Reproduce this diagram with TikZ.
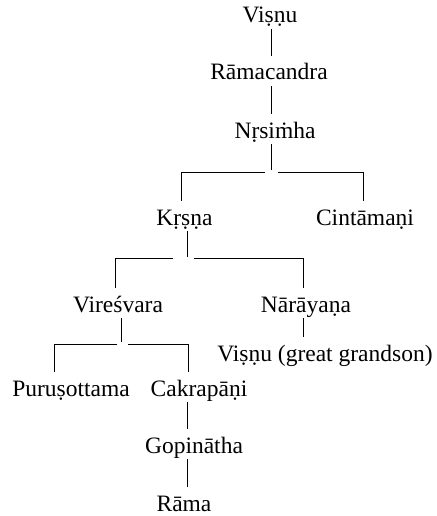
\documentclass[tikz,border=0pt]{standalone}
\usepackage{fontspec}
\setmainfont{Liberation Serif}
\begin{document}
\begin{tikzpicture}
  [x=1pt,y=-1pt,line width=.8pt,
   every node/.style={font=\fontsize{23.5}{26}\selectfont,text height=20pt,text depth=2pt,inner xsep=2pt,inner ysep=4pt}]
  \useasboundingbox (0,0) rectangle (436,516);
  \node (vis) at (270,14) {Viṣṇu};
  \node (ram) at (269,71) {Rāmacandra};
  \node (nrs) at (275,129) {Nṛsiṁha};
  \node (krs) at (184.5,216) {Kṛṣṇa};
  \node (cin) at (365,216) {Cintāmaṇi};
  \node (vir) at (118,303) {Vireśvara};
  \node (nar) at (306,303) {Nārāyaṇa};
  \node (vgg) at (325,352) {Viṣṇu (great grandson)};
  \node (pur) at (71,387) {Puruṣottama};
  \node (cak) at (199,387) {Cakrapāṇi};
  \node (gop) at (194,444) {Gopinātha};
  \node (rma) at (184,502) {Rāma};

  \coordinate (j1) at (271,172);
  \coordinate (j2) at (187,258);
  \coordinate (j3) at (121,344);

  \foreach \from/\to/\x in {vis/ram/271,ram/nrs/271,nar/vgg/303,
    cak/gop/187,gop/rma/187}
    \draw (\from.south -| \x,0) -- (\to.north -| \x,0);

  \draw (nrs.south -| j1) -- ([yshift=2pt]j1);
  \draw ([xshift=-6pt]j1) -| (krs.north -| 181,0);
  \draw ([xshift=7pt]j1) -| (cin.north -| 363,0);
  \draw (krs.south -| j2) -- ([yshift=1pt]j2);
  \draw ([xshift=-14pt]j2) -| (vir.north -| 115,0);
  \draw ([xshift=7pt]j2) -| (nar.north -| 303,0);
  \draw (vir.south -| j3) -- ([yshift=2pt]j3);
  \draw ([xshift=-4pt]j3) -| (pur.north -| 54,0);
  \draw ([xshift=7pt]j3) -| (cak.north -| 188,0);
\end{tikzpicture}
\end{document}
